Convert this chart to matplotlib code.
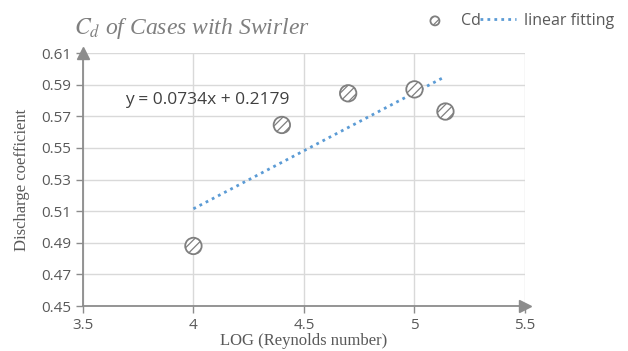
import matplotlib.pyplot as plt
import numpy as np

# data
log_re = [4.0, 4.4, 4.7, 5.0, 5.14]
cd = [0.488, 0.5645, 0.5845, 0.587, 0.573]
slope = 0.0734
intercept = 0.2179
x_ticks = [3.5, 4, 4.5, 5, 5.5]
y_ticks = [0.45, 0.47, 0.49, 0.51, 0.53, 0.55, 0.57, 0.59, 0.61]

GRAY = '#595959'
AXIS = '#8c8c8c'
GRID = '#d9d9d9'
LINE = '#5b9bd5'

plt.rcParams['hatch.linewidth'] = 0.9

fig = plt.figure(figsize=(6.28, 3.51), dpi=100)
ax = fig.add_axes([0.132, 0.128, 0.704, 0.721])

ax.set_xlim(3.5, 5.5)
ax.set_ylim(0.45, 0.61)
ax.set_xticks(x_ticks)
ax.set_xticklabels(['3.5', '4', '4.5', '5', '5.5'])
ax.set_yticks(y_ticks)
ax.set_yticklabels(['%.2f' % v for v in y_ticks])
ax.grid(True, color=GRID, linewidth=1)
ax.set_axisbelow(True)

for s in ['top', 'right']:
    ax.spines[s].set_visible(False)
for s in ['left', 'bottom']:
    ax.spines[s].set_color(AXIS)
    ax.spines[s].set_linewidth(1.3)
ax.tick_params(colors=AXIS, labelcolor=GRAY, labelsize=11, length=5, width=1)
for lab in ax.get_xticklabels() + ax.get_yticklabels():
    lab.set_family('Open Sans')

# arrow heads on the axes
ax.plot(1, 0, '>', transform=ax.transAxes, color=AXIS, markersize=8, clip_on=False)
ax.plot(0, 1, '^', transform=ax.transAxes, color=AXIS, markersize=8, clip_on=False)

# fitted line
xf = np.array([min(log_re), max(log_re)])
fit, = ax.plot(xf, slope * xf + intercept, linestyle=(0, (1, 1.5)), color=LINE, linewidth=2)

pts = ax.scatter(log_re, cd, s=140, facecolor='white', edgecolor='#7f7f7f',
                 hatch='////', linewidth=1.3, zorder=3)

ax.text(3.69, 0.580, 'y = 0.0734x + 0.2179', fontsize=12.5, color='#404040',
        family='Open Sans', va='center')

ax.set_xlabel('LOG (Reynolds number)', family='Liberation Serif', fontsize=12,
              color=GRAY, labelpad=0)
ax.set_ylabel('Discharge coefficient', family='Liberation Serif', fontsize=12,
              color=GRAY, labelpad=8)

fig.text(0.118, 0.92, r'$C_d$ of Cases with Swirler', fontsize=17, color='#7f7f7f',
         family='Liberation Serif', style='italic', va='center',
         math_fontfamily='stix')

leg = fig.legend([pts, fit], ['Cd', 'linear fitting'], loc='center right',
                 bbox_to_anchor=(1.0, 0.94), ncol=2, frameon=False,
                 columnspacing=0.0, handlelength=2.2, handletextpad=0.5,
                 markerscale=0.55, scatterpoints=1,
                 prop={'family': 'Open Sans', 'size': 11.5})
for t in leg.get_texts():
    t.set_color(GRAY)

fig.savefig('out.png', dpi=100)
